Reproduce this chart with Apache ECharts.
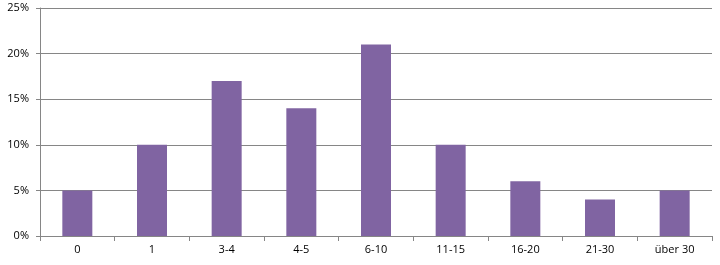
<!DOCTYPE html>
<html><head><meta charset="utf-8">
<script src="https://cdn.jsdelivr.net/npm/echarts@6/dist/echarts.min.js"></script>
<style>html,body{margin:0;padding:0;background:#fff}#c{width:720px;height:265px}</style>
</head><body><div id="c"></div>
<script>
const categories = ['0','1','3-4','4-5','6-10','11-15','16-20','21-30','über 30'];
const values = [5,10,17,14,21,10,6,4,5];
const chart = echarts.init(document.getElementById('c'));
chart.setOption({
  animation:false,
  grid:{left:40,right:8,top:8,bottom:29},
  xAxis:{type:'category',data:categories,
    axisLine:{lineStyle:{color:'#868686',width:1}},
    axisTick:{show:true,length:5,inside:false,lineStyle:{color:'#868686'}},
    axisLabel:{color:'#000',fontSize:11,fontFamily:'Open Sans',margin:8}},
  yAxis:{type:'value',min:0,max:25,interval:5,
    axisLine:{show:true,lineStyle:{color:'#868686'}},
    axisTick:{show:true,length:4,lineStyle:{color:'#868686'}},
    splitLine:{lineStyle:{color:'#868686'}},
    axisLabel:{formatter:'{value}%',color:'#000',fontSize:11,fontFamily:'Open Sans',margin:11}},
  series:[{type:'bar',data:values,barWidth:30,itemStyle:{color:'#8064A2'}}]
});
</script></body></html>
